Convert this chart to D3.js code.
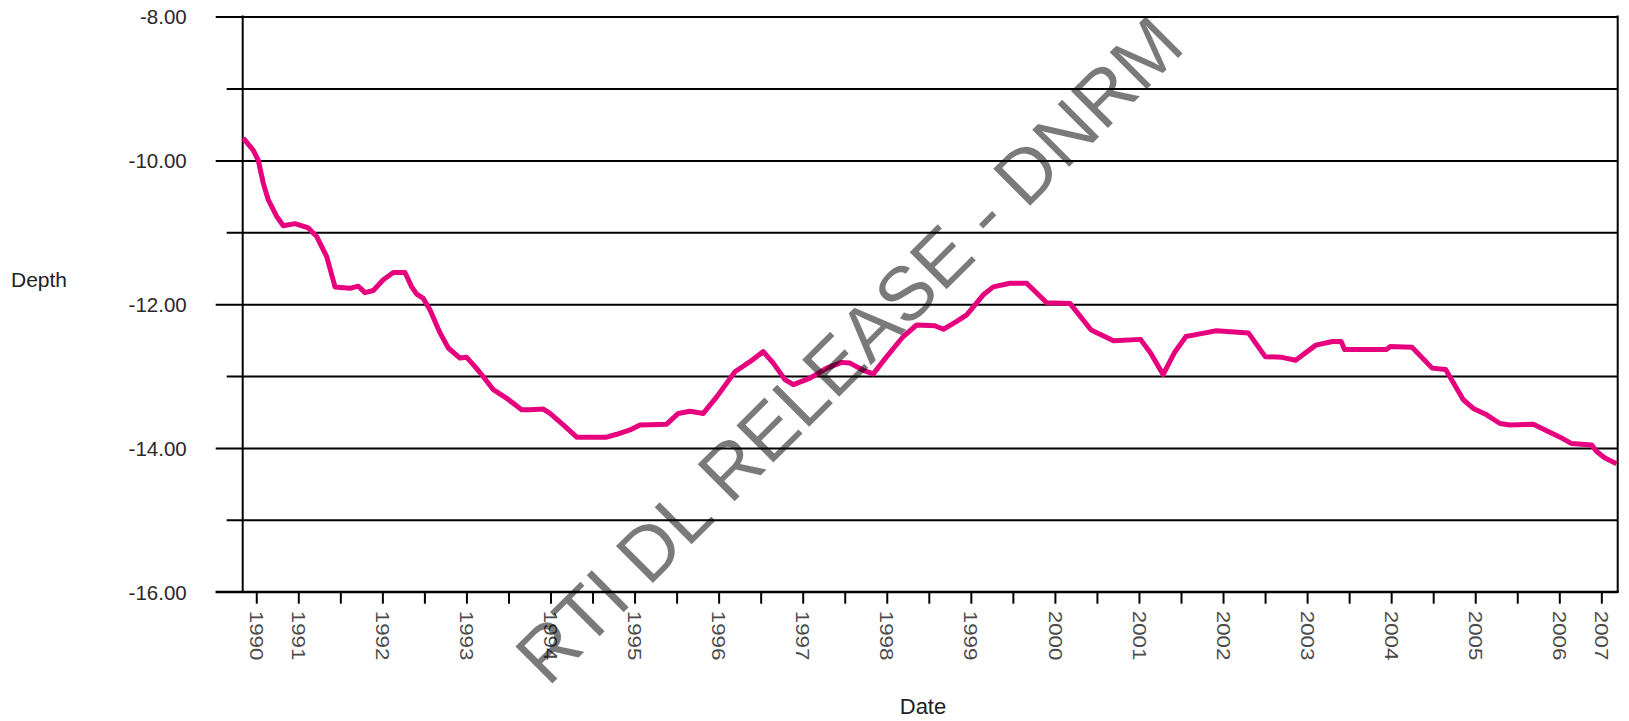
<!DOCTYPE html>
<html><head><meta charset="utf-8">
<script src="https://cdn.jsdelivr.net/npm/d3@7"></script>
<style>body{margin:0;background:#fff}svg{display:block}</style>
</head><body>
<script>
// ---- data (decimal year, depth) ----
const years = [1990.346,1990.465,1990.524,1990.584,1990.643,1990.743,1990.822,1990.961,1991.119,1991.219,1991.338,1991.437,1991.615,1991.714,1991.793,1991.892,1992.011,1992.130,1992.269,1992.349,1992.408,1992.487,1992.567,1992.686,1992.784,1992.923,1993.003,1993.102,1993.201,1993.320,1993.479,1993.657,1993.756,1993.914,1993.994,1994.152,1994.312,1994.668,1994.787,1994.946,1995.064,1995.382,1995.520,1995.659,1995.817,1995.977,1996.194,1996.373,1996.531,1996.650,1996.789,1996.888,1997.087,1997.285,1997.464,1997.562,1997.721,1997.840,1997.999,1998.196,1998.356,1998.573,1998.672,1998.832,1998.951,1999.148,1999.267,1999.466,1999.664,1999.902,2000.179,2000.431,2000.697,2001.018,2001.138,2001.287,2001.419,2001.559,2001.740,2001.921,2002.302,2002.502,2002.702,2002.863,2003.104,2003.304,2003.405,2003.445,2003.947,2003.987,2004.248,2004.488,2004.648,2004.858,2004.977,2005.136,2005.294,2005.413,2005.690,2005.850,2006.008,2006.147,2006.385,2006.444,2006.543,2006.682];
const depths = [-9.69,-9.86,-10.00,-10.32,-10.55,-10.78,-10.91,-10.88,-10.94,-11.06,-11.34,-11.76,-11.78,-11.75,-11.84,-11.81,-11.66,-11.56,-11.56,-11.76,-11.86,-11.92,-12.08,-12.40,-12.61,-12.75,-12.74,-12.87,-13.01,-13.19,-13.31,-13.47,-13.47,-13.46,-13.52,-13.68,-13.85,-13.85,-13.81,-13.75,-13.68,-13.67,-13.52,-13.49,-13.52,-13.29,-12.94,-12.80,-12.66,-12.82,-13.05,-13.12,-13.03,-12.89,-12.81,-12.82,-12.92,-12.97,-12.73,-12.45,-12.29,-12.30,-12.35,-12.24,-12.15,-11.87,-11.76,-11.71,-11.71,-11.98,-11.99,-12.36,-12.51,-12.49,-12.68,-12.98,-12.68,-12.45,-12.41,-12.37,-12.40,-12.73,-12.74,-12.78,-12.57,-12.52,-12.52,-12.63,-12.63,-12.59,-12.60,-12.89,-12.91,-13.33,-13.45,-13.54,-13.66,-13.68,-13.67,-13.76,-13.85,-13.94,-13.96,-14.05,-14.14,-14.22];
const yTicks = [-16,-15,-14,-13,-12,-11,-10,-9,-8];
const yLabelTicks = [-16,-14,-12,-10,-8];
const xTickLabels = ["1990","1991","","1992","","1993","","1994","","1995","","1996","","1997","","1998","","1999","","2000","","2001","","2002","","2003","","2004","","2005","","2006","2007"];
const xDomain = [1990.3386, 2006.6947];
const yDomain = [-16, -8];
const watermark = "RTI DL RELEASE - DNRM";

// ---- layout ----
const W = 1629, H = 721;
const L = 242.7, R = 1617.7, T = 16.6, B = 591.7;
const x = d3.scaleLinear().domain(xDomain).range([L, R]);
const y = d3.scaleLinear().domain(yDomain).range([B, T]);
const xTickValues = xTickLabels.map((d, i) => 1990.5 + i * 0.5);

const svg = d3.select("body").append("svg").attr("width", W).attr("height", H)
  .style("font-family", "'Liberation Sans', Arial, sans-serif");

// y axis + gridlines
const yAxis = d3.axisLeft(y).tickValues(yTicks).tickSize(-(R - L))
  .tickFormat(d => yLabelTicks.includes(d) ? d.toFixed(2) : "");
const gy = svg.append("g").attr("transform", `translate(${L},0)`).call(yAxis);
gy.select(".domain").remove();
gy.selectAll(".tick line")
  .attr("x1", d => yLabelTicks.includes(d) ? -27 : -16)
  .attr("x2", R - L)
  .attr("stroke", "#000").attr("stroke-width", 2);
gy.selectAll(".tick text")
  .attr("x", -56).attr("dy", "0.36em")
  .attr("fill", "#2a2a2a").style("font-size", "20.5px").attr("font-family", null);

// frame verticals
svg.append("line").attr("x1", L).attr("x2", L).attr("y1", T - 1).attr("y2", B + 1)
  .attr("stroke", "#000").attr("stroke-width", 2);
svg.append("line").attr("x1", R).attr("x2", R).attr("y1", T - 1).attr("y2", B + 1)
  .attr("stroke", "#000").attr("stroke-width", 2);

// x axis
const xAxis = d3.axisBottom(x).tickValues(xTickValues).tickSize(12)
  .tickFormat((d, i) => xTickLabels[i]);
const gx = svg.append("g").attr("transform", `translate(0,${B})`).call(xAxis);
gx.select(".domain").remove();
gx.selectAll(".tick line").attr("stroke", "#000").attr("stroke-width", 2);
gx.selectAll(".tick text")
  .attr("x", 0).attr("y", 0).attr("dy", null)
  .attr("transform", "translate(0,19) rotate(90) scale(1.18,1)")
  .attr("text-anchor", "start").attr("dominant-baseline", "central")
  .attr("fill", "#4a4a4a").style("font-size", "19px").attr("font-family", null);
svg.append("line").attr("x1", L - 27).attr("x2", R + 1).attr("y1", B).attr("y2", B)
  .attr("stroke", "#000").attr("stroke-width", 2);

// axis titles
svg.append("text").attr("x", 11).attr("y", 287).text("Depth")
  .attr("fill", "#222").style("font-size", "21px");
svg.append("text").attr("x", 923).attr("y", 714).attr("text-anchor", "middle").text("Date")
  .attr("fill", "#222").style("font-size", "22px");

// series line
const line = d3.line().x((d, i) => x(years[i])).y(d => y(d));
svg.append("path").datum(depths).attr("d", line)
  .attr("fill", "none").attr("stroke", "#E6007E").attr("stroke-width", 5)
  .attr("stroke-linejoin", "round");

// watermark
svg.append("text").attr("transform", "translate(548,688) rotate(-45)")
  .text(watermark).attr("fill", "#000").attr("fill-opacity", 0.52)
  .style("font-size", "76px");
</script>
</body></html>
